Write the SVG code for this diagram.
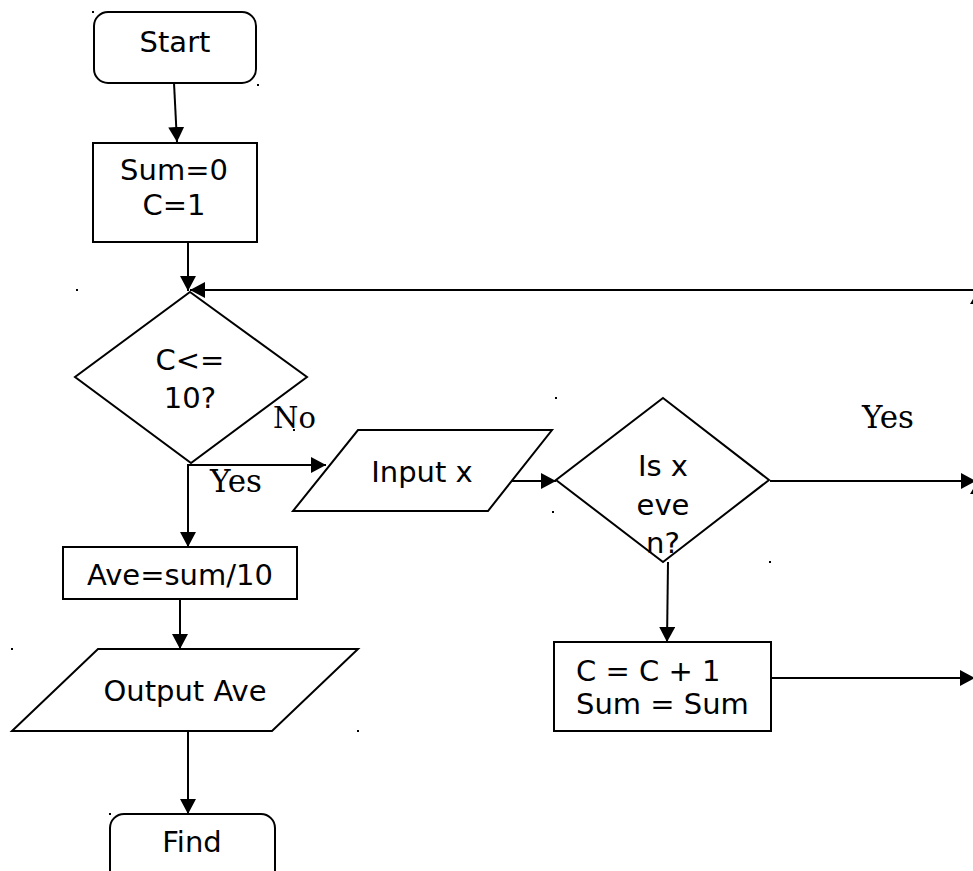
<svg xmlns="http://www.w3.org/2000/svg" width="973" height="871" viewBox="0 0 973 871">
<style>
.shape{fill:#fff;stroke:#000;stroke-width:2}
.conn{fill:none;stroke:#000;stroke-width:2}
.t{font-family:"DejaVu Sans","Liberation Sans",sans-serif;font-size:29px;fill:#000}
.m{text-anchor:middle}
.lbl{font-family:"DejaVu Serif","Liberation Serif",serif;font-size:31px;fill:#000}
.dot{fill:#000}
</style>
<defs>
<marker id="ah" markerUnits="userSpaceOnUse" markerWidth="16" markerHeight="18" refX="15" refY="8" orient="auto">
<path d="M0,0 L15,8 L0,16 z" fill="#000"/>
</marker>
</defs>
<rect width="973" height="871" fill="#fff"/>
<g id="connectors">
<line class="conn" x1="174" y1="83" x2="177" y2="142" marker-end="url(#ah)"/>
<line class="conn" x1="188" y1="242" x2="188" y2="291" marker-end="url(#ah)"/>
<line class="conn" x1="975" y1="290" x2="190" y2="290" marker-end="url(#ah)"/>
<line class="conn" x1="188" y1="464" x2="188" y2="547" marker-end="url(#ah)"/>
<line class="conn" x1="187" y1="465" x2="326" y2="465" marker-end="url(#ah)"/>
<line class="conn" x1="510" y1="481" x2="556" y2="481" marker-end="url(#ah)"/>
<line class="conn" x1="770" y1="481" x2="976" y2="481" marker-end="url(#ah)"/>
<line class="conn" x1="668" y1="562" x2="667" y2="642" marker-end="url(#ah)"/>
<line class="conn" x1="771" y1="678" x2="975" y2="678" marker-end="url(#ah)"/>
<line class="conn" x1="180" y1="599" x2="180" y2="649" marker-end="url(#ah)"/>
<line class="conn" x1="188" y1="731" x2="188" y2="814" marker-end="url(#ah)"/>
<text class="lbl" x="273" y="428" style="font-size:29px">No</text>
<text class="lbl" x="210" y="492">Yes</text>
<text class="lbl" x="862" y="428">Yes</text>
</g>
<g id="start">
<rect class="shape" x="94" y="12" width="162" height="71" rx="14"/>
<text class="t m" x="175" y="52">Start</text>
</g>
<g id="init">
<rect class="shape" x="93" y="143" width="164" height="99"/>
<text class="t m" x="174" y="180">Sum=0</text>
<text class="t m" x="174" y="215">C=1</text>
</g>
<g id="cond">
<polygon class="shape" points="190,292 307,377 191,463 75,377"/>
<text class="t m" x="190" y="370">C&lt;=</text>
<text class="t m" x="190" y="408">10?</text>
</g>
<g id="input">
<polygon class="shape" points="358,430 552,430 488,511 293,511"/>
<text class="t m" x="422" y="482">Input x</text>
</g>
<g id="even">
<polygon class="shape" points="663,398 769,480 663,562 556,480"/>
<text class="t m" x="663" y="476">Is x</text>
<text class="t m" x="663" y="515">eve</text>
<text class="t m" x="663" y="553">n?</text>
</g>
<g id="incr">
<rect class="shape" x="554" y="642" width="217" height="89"/>
<text class="t" x="576" y="681">C = C + 1</text>
<text class="t" x="576" y="714">Sum = Sum</text>
</g>
<g id="ave">
<rect class="shape" x="63" y="547" width="234" height="52"/>
<text class="t m" x="180" y="585">Ave=sum/10</text>
</g>
<g id="output">
<polygon class="shape" points="98,649 358,649 272,731 12,731"/>
<text class="t m" x="185" y="701">Output Ave</text>
</g>
<g id="find">
<rect class="shape" x="110" y="814" width="165" height="70" rx="14"/>
<text class="t m" x="192" y="852">Find</text>
</g>
<g id="marks">
<rect class="dot" x="92" y="11" width="2" height="2"/>
<rect class="dot" x="257" y="84" width="2" height="2"/>
<rect class="dot" x="76" y="289" width="2" height="2"/>
<rect class="dot" x="555" y="397" width="2" height="2"/>
<rect class="dot" x="552" y="511" width="2" height="2"/>
<rect class="dot" x="769" y="561" width="2" height="2"/>
<rect class="dot" x="11" y="648" width="2" height="2"/>
<rect class="dot" x="357" y="730" width="2" height="2"/>
<rect class="dot" x="109" y="813" width="2" height="2"/>
<rect class="dot" x="293" y="429" width="2" height="2"/>
<path class="dot" d="M970,304 L973,299 L973,304 z"/>
<path class="dot" d="M970,494 L973,489 L973,494 z"/>
</g>
</svg>
